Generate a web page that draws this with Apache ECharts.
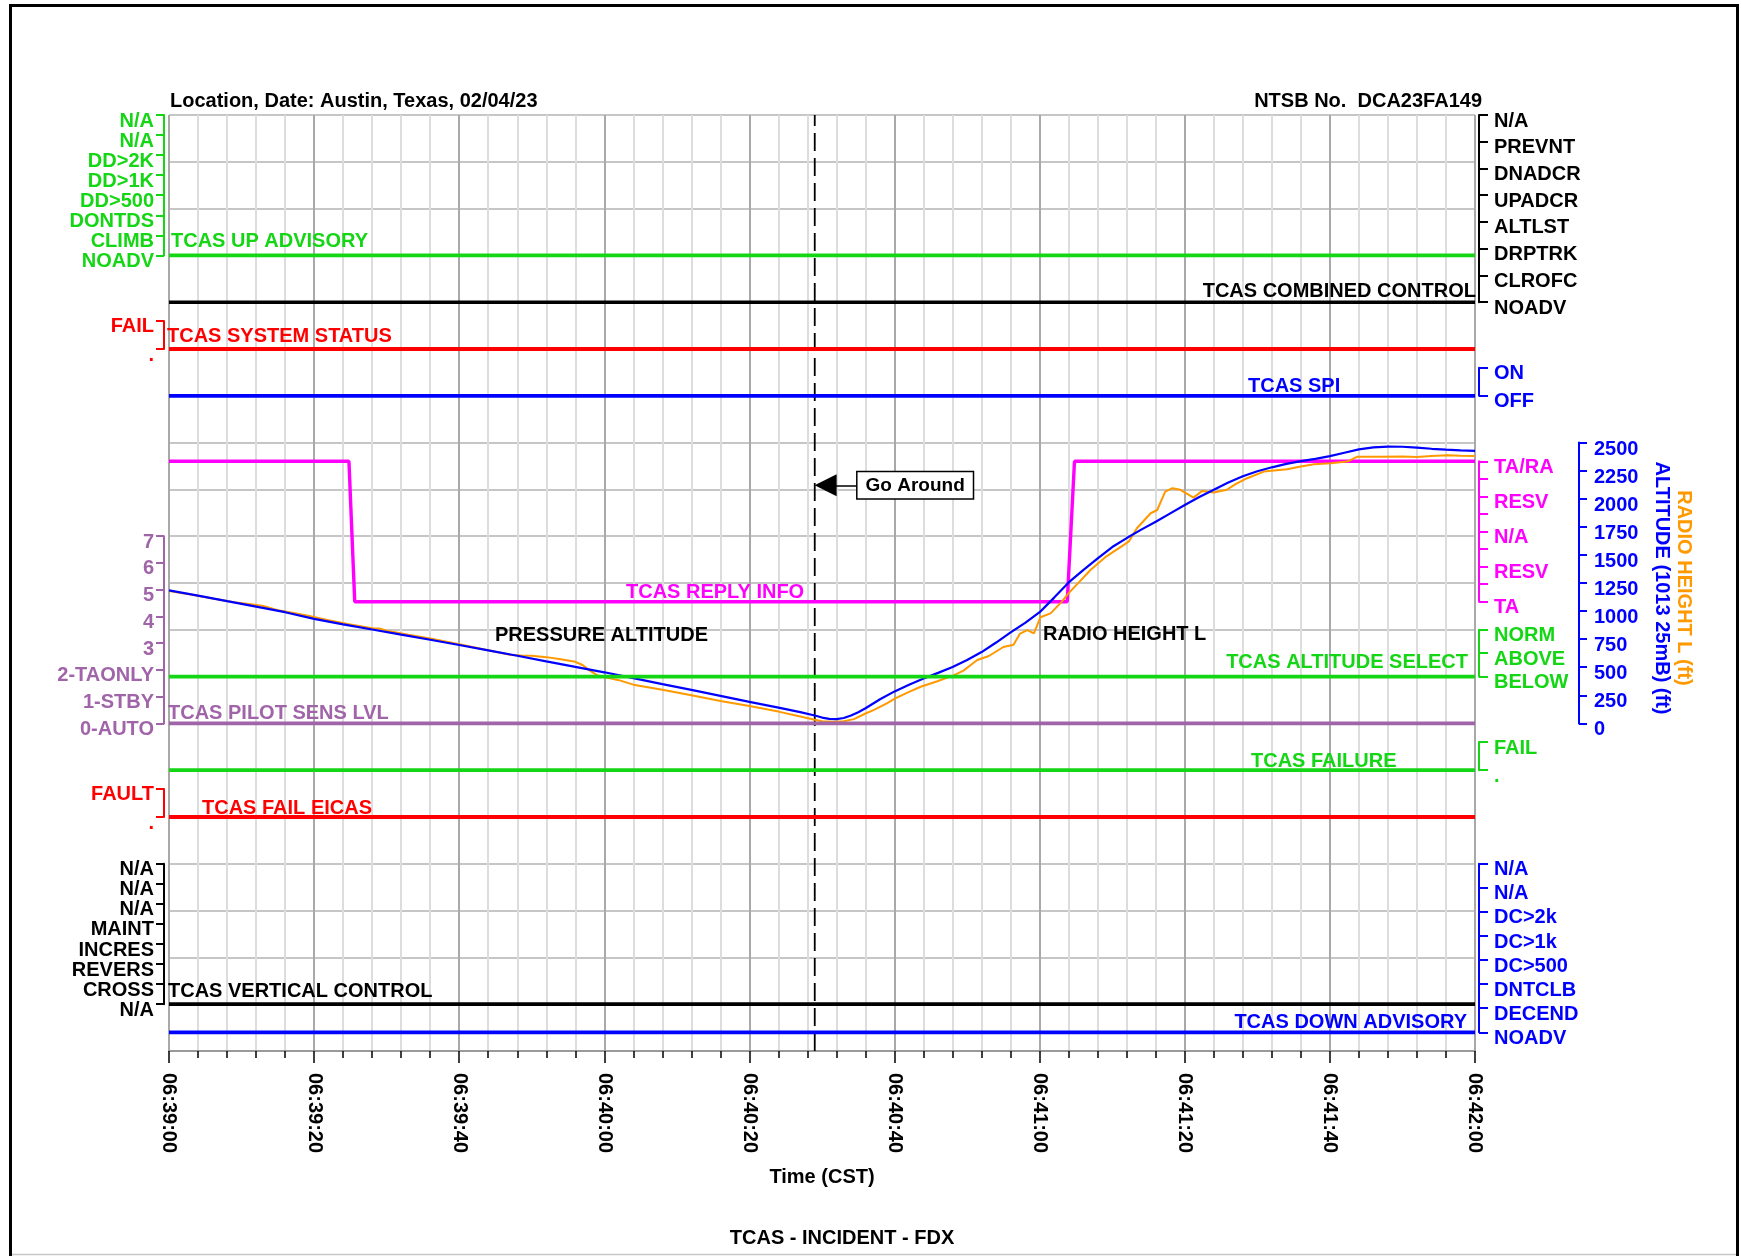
<!DOCTYPE html>
<html>
<head>
<meta charset="utf-8">
<title>TCAS - INCIDENT - FDX</title>
<script src="https://cdn.jsdelivr.net/npm/echarts@6/dist/echarts.min.js"></script>
<style>
  html, body { margin: 0; padding: 0; background: #ffffff; }
  #chart { width: 1741px; height: 1256px; }
</style>
</head>
<body>
<div id="chart"></div>
<script>
// ---- Time axis: seconds after 06:39:00 CST ----
const timeLabels = ['06:39:00', '06:39:20', '06:39:40', '06:40:00', '06:40:20',
                    '06:40:40', '06:41:00', '06:41:20', '06:41:40', '06:42:00'];
const goAroundTime = 89;

// ---- Continuous parameters [seconds, feet] ----
const pressureAltitude = [
  [0,1185],[4,1137],[8,1088],[12,1040],[16,990],[20,930],[24,882],[28,836],[32,790],[36,745],
  [40,698],[44,650],[48,602],[52,552],[56,503],[60,455],[64,403],[68,350],[72,298],[76,245],
  [80,192],[84,140],[87,100],[89,70],[90,52],[91,40],[92,38],[93,48],[94,70],[95,100],
  [96,135],[98,215],[100,285],[102,345],[104,400],[106,450],[108,502],[110,565],[112,635],[114,720],
  [116,810],[118,895],[120,990],[122,1120],[124,1255],[126,1365],[128,1470],[130,1570],[132,1650],[134,1725],
  [136,1795],[138,1870],[140,1945],[142,2015],[144,2080],[146,2145],[148,2200],[150,2245],[152,2280],[154,2310],
  [156,2335],[158,2355],[160,2380],[162,2410],[164,2440],[166,2458],[168,2465],[170,2463],[172,2455],[174,2445],
  [176,2437],[178,2430],[180,2426]
];
const radioHeight = [
  [0,1178],[3,1148],[6,1112],[9,1078],[11,1062],[13,1045],[15,1008],[17,985],[19,960],[22,918],
  [25,880],[28,848],[29,845],[30,825],[33,790],[36,756],[40,705],[44,652],[47,612],[48.5,605],
  [50,603],[52,590],[54,572],[56,548],[57,520],[58,470],[59,430],[60,412],[62,385],[64,345],
  [68,300],[72,250],[76,200],[80,155],[84,105],[87,62],[89,33],[90,20],[91.5,14],[93,20],
  [94.4,38],[96,88],[97.1,118],[99,180],[100.1,223],[102,280],[103.6,326],[106,378],[108.2,430],[109.5,470],
  [110.5,520],[111.4,564],[113,600],[115,680],[116.4,700],[117.3,800],[118.3,830],[119.2,802],[120.1,945],[121.5,980],
  [123,1080],[124,1160],[125.5,1262],[127,1366],[129,1478],[131.6,1589],[132.3,1620],[133.4,1737],[135.3,1871],[136.2,1900],
  [137.3,2063],[138.3,2094],[139.4,2080],[141.2,2010],[142.4,2070],[144,2055],[145.8,2080],[147,2130],[148.6,2183],[150.9,2242],
  [154.1,2263],[156,2288],[157.8,2308],[160.1,2316],[162.4,2331],[163.8,2375],[167,2375],[170,2376],[172,2372],[174,2380],
  [176.2,2388],[178,2384],[180,2381]
];

// ---- Discrete parameters [seconds, state index] ----
const replyInfo       = [[0,8],[24.8,8],[25.6,0],[123.8,0],[124.8,8],[180,8]];
const upAdvisory      = [[0,0],[180,0]];
const combinedControl = [[0,0],[180,0]];
const systemStatus    = [[0,0],[180,0]];
const spi             = [[0,0],[180,0]];
const pilotSensLvl    = [[0,0],[180,0]];
const altitudeSelect  = [[0,0],[180,0]];
const tcasFailure     = [[0,0],[180,0]];
const failEicas       = [[0,0],[180,0]];
const verticalControl = [[0,0],[180,0]];
const downAdvisory    = [[0,0],[180,0]];

// ---- State names, from state 0 upward ----
const upAdvisoryStates      = ['NOADV','CLIMB','DONTDS','DD>500','DD>1K','DD>2K','N/A','N/A'];
const combinedControlStates = ['NOADV','CLROFC','DRPTRK','ALTLST','UPADCR','DNADCR','PREVNT','N/A'];
const systemStatusStates    = ['.','FAIL'];
const spiStates             = ['OFF','ON'];
const replyInfoStates       = ['TA','','RESV','','N/A','','RESV','','TA/RA'];
const pilotSensStates       = ['0-AUTO','1-STBY','2-TAONLY','3','4','5','6','7'];
const altitudeSelectStates  = ['BELOW','ABOVE','NORM'];
const failureStates         = ['.','FAIL'];
const failEicasStates       = ['.','FAULT'];
const verticalControlStates = ['N/A','CROSS','REVERS','INCRES','MAINT','N/A','N/A','N/A'];
const downAdvisoryStates    = ['NOADV','DECEND','DNTCLB','DC>500','DC>1k','DC>2k','N/A','N/A'];

// ---- Styling ----
const FONT = '"Liberation Sans", Arial, Helvetica, sans-serif';
const GREEN = '#14d614', RED = '#ff0000', BLUE = '#0000ff', BLACK = '#000000';
const MAGENTA = '#ff00ff', PURPLE = '#a064a8', ORANGE = '#ff9900';

const PLOT = { left: 169, width: 1306, top: 115, height: 936 };
const ROW = PLOT.height / 20;
const rowY = r => PLOT.top + r * ROW;

const grids = [], xAxes = [], yAxes = [], series = [];

function addGrid(top, height) {
  grids.push({ left: PLOT.left, width: PLOT.width, top: top, height: height,
               outerBoundsMode: 'none', containLabel: false });
  const gi = grids.length - 1;
  xAxes.push({ gridIndex: gi, type: 'value', min: 0, max: 180, show: false });
  return gi;
}

// state labels sit a few pixels below their tick: top-aligned with a short line box
function bracketLabel(color, margin, drop, formatter) {
  return {
    show: true, color: color, fontFamily: FONT, fontWeight: 'bold', fontSize: 20,
    margin: margin, showMinLabel: true, showMaxLabel: true, hideOverlap: false,
    verticalAlign: 'top', lineHeight: drop * 2, formatter: formatter
  };
}

// background grid: time axis and the chart's ruled lines
addGrid(PLOT.top, PLOT.height);
xAxes[0] = {
  gridIndex: 0, type: 'value', min: 0, max: 180, interval: 20,
  axisLine: { show: true, onZero: false, lineStyle: { color: '#9a9a9a', width: 2 } },
  axisTick: { show: true, length: 12, lineStyle: { color: BLACK, width: 1.5 } },
  minorTick: { show: true, splitNumber: 5, length: 7, lineStyle: { color: BLACK, width: 1.5 } },
  splitLine: { show: true, lineStyle: { color: '#a9a9a9', width: 2 } },
  minorSplitLine: { show: true, lineStyle: { color: '#dddddd', width: 2 } },
  axisLabel: {
    rotate: -90, margin: 22, color: BLACK, fontFamily: FONT, fontWeight: 'bold', fontSize: 20,
    showMinLabel: true, showMaxLabel: true, hideOverlap: false,
    formatter: v => timeLabels[Math.round(v / 20)] || ''
  }
};
yAxes.push({
  gridIndex: 0, type: 'value', min: 0, max: 20, interval: 1,
  axisLine: { show: false }, axisTick: { show: false }, axisLabel: { show: false },
  splitLine: { show: true, lineStyle: { color: '#b3b3b3', width: 1.6 } }
});
series.push({
  name: 'Go Around', type: 'line', xAxisIndex: 0, yAxisIndex: 0,
  data: [[goAroundTime, 0], [goAroundTime, 20]],
  symbol: 'none', clip: false, silent: true,
  lineStyle: { color: BLACK, width: 1.8, type: [18, 7] }
});

function stateBand(o) {
  const gi = addGrid(o.top, o.height);
  const left = o.side === 'left';
  yAxes.push({
    gridIndex: gi, type: 'value', position: o.side,
    min: 0, max: o.states.length - 1, interval: 1,
    offset: left ? 5 : 4,
    axisLine: { show: true, onZero: false, lineStyle: { color: o.color, width: 2 } },
    axisTick: { show: true, length: left ? 8 : 9, lineStyle: { color: o.color, width: 2 } },
    splitLine: { show: false },
    axisLabel: bracketLabel(o.color, left ? 10 : 15, left ? 6 : 6,
                            v => o.states[Math.round(v)] || '')
  });
  series.push({
    name: o.name, type: 'line', xAxisIndex: gi, yAxisIndex: yAxes.length - 1,
    data: o.data, symbol: 'none', clip: false, silent: true,
    lineStyle: { color: o.color, width: o.width || 3.8 }
  });
}

stateBand({ name: 'TCAS UP ADVISORY', top: rowY(0), height: 3 * ROW, side: 'left',
            color: GREEN, states: upAdvisoryStates, data: upAdvisory });
stateBand({ name: 'TCAS COMBINED CONTROL', top: rowY(0), height: 4 * ROW, side: 'right',
            color: BLACK, states: combinedControlStates, data: combinedControl, width: 3.4 });
stateBand({ name: 'TCAS SYSTEM STATUS', top: rowY(4.4), height: 0.6 * ROW, side: 'left',
            color: RED, states: systemStatusStates, data: systemStatus });
stateBand({ name: 'TCAS SPI', top: rowY(5.4), height: 0.6 * ROW, side: 'right',
            color: BLUE, states: spiStates, data: spi });
stateBand({ name: 'TCAS REPLY INFO', top: rowY(7.4), height: 3 * ROW, side: 'right',
            color: MAGENTA, states: replyInfoStates, data: replyInfo, width: 3.4 });

// altitude band: pressure altitude and radio height share one feet scale
const altGrid = addGrid(rowY(7), 6 * ROW);
yAxes.push({
  gridIndex: altGrid, type: 'value', position: 'right', offset: 104,
  min: 0, max: 2500, interval: 250,
  axisLine: { show: true, onZero: false, lineStyle: { color: BLUE, width: 2 } },
  axisTick: { show: true, length: 8, lineStyle: { color: BLUE, width: 2 } },
  splitLine: { show: false },
  axisLabel: bracketLabel(BLUE, 15, 6.5, v => String(Math.round(v)))
});
const altY = yAxes.length - 1;
series.push({
  name: 'RADIO HEIGHT L', type: 'line', xAxisIndex: altGrid, yAxisIndex: altY,
  data: radioHeight, symbol: 'none', clip: false, silent: true,
  lineStyle: { color: ORANGE, width: 2 }
});
series.push({
  name: 'PRESSURE ALTITUDE', type: 'line', xAxisIndex: altGrid, yAxisIndex: altY,
  data: pressureAltitude, symbol: 'none', clip: false, silent: true,
  lineStyle: { color: BLUE, width: 2.2 },
  markLine: {
    silent: true, animation: false,
    symbol: ['none', 'triangle'], symbolSize: 22,
    lineStyle: { color: BLACK, width: 1.5, type: 'solid' },
    label: {
      show: true, position: 'start', distance: 0, formatter: 'Go Around',
      color: BLACK, fontFamily: FONT, fontWeight: 'bold', fontSize: 19, lineHeight: 21,
      backgroundColor: '#ffffff', borderColor: BLACK, borderWidth: 1.5, padding: [3, 8, 2, 8]
    },
    data: [[{ coord: [94.9, 2120] }, { coord: [90.5, 2120] }]]
  }
});

stateBand({ name: 'TCAS PILOT SENS LVL', top: rowY(9), height: 4 * ROW, side: 'left',
            color: PURPLE, states: pilotSensStates, data: pilotSensLvl });
stateBand({ name: 'TCAS ALTITUDE SELECT', top: rowY(11), height: ROW, side: 'right',
            color: GREEN, states: altitudeSelectStates, data: altitudeSelect });
stateBand({ name: 'TCAS FAILURE', top: rowY(13.4), height: 0.6 * ROW, side: 'right',
            color: GREEN, states: failureStates, data: tcasFailure });
stateBand({ name: 'TCAS FAIL EICAS', top: rowY(14.4), height: 0.6 * ROW, side: 'left',
            color: RED, states: failEicasStates, data: failEicas });
stateBand({ name: 'TCAS VERTICAL CONTROL', top: rowY(16), height: 3 * ROW, side: 'left',
            color: BLACK, states: verticalControlStates, data: verticalControl });
stateBand({ name: 'TCAS DOWN ADVISORY', top: rowY(16), height: 3.6 * ROW, side: 'right',
            color: BLUE, states: downAdvisoryStates, data: downAdvisory });

// ---- Text annotations ----
function txt(text, x, y, color, align, extra) {
  return Object.assign({
    type: 'text', x: x, y: y, z: 100, silent: true,
    style: {
      text: text, fill: color, font: 'bold 20px ' + FONT,
      align: align || 'left', verticalAlign: 'middle',
      textAlign: align || 'left', textVerticalAlign: 'middle'
    }
  }, extra || {});
}

const graphics = [
  { type: 'rect', z: 0, silent: true, shape: { x: 10.5, y: 5.5, width: 1727, height: 1300 },
    style: { fill: 'none', stroke: BLACK, lineWidth: 3 } },
  { type: 'line', z: 0, silent: true, shape: { x1: 12, y1: 1254.5, x2: 1736, y2: 1254.5 },
    style: { stroke: '#c8c8c8', lineWidth: 1.5 } },
  txt('Location, Date: Austin, Texas, 02/04/23', 170, 101, BLACK, 'left'),
  txt('NTSB No.  DCA23FA149', 1482, 101, BLACK, 'right'),
  txt('TCAS UP ADVISORY', 171, 241, GREEN, 'left'),
  txt('TCAS COMBINED CONTROL', 1476, 291, BLACK, 'right'),
  txt('TCAS SYSTEM STATUS', 167, 336, RED, 'left'),
  txt('TCAS SPI', 1248, 386, BLUE, 'left'),
  txt('TCAS REPLY INFO', 626, 592, MAGENTA, 'left'),
  txt('PRESSURE ALTITUDE', 495, 635.5, BLACK, 'left'),
  txt('RADIO HEIGHT L', 1043, 634, BLACK, 'left'),
  txt('TCAS ALTITUDE SELECT', 1468, 662, GREEN, 'right'),
  txt('TCAS PILOT SENS LVL', 168, 713, PURPLE, 'left'),
  txt('TCAS FAILURE', 1251, 761, GREEN, 'left'),
  txt('TCAS FAIL EICAS', 202, 808, RED, 'left'),
  txt('TCAS VERTICAL CONTROL', 168, 991, BLACK, 'left'),
  txt('TCAS DOWN ADVISORY', 1467, 1022.5, BLUE, 'right'),
  txt('ALTITUDE (1013 25mB) (ft)', 1662, 588, BLUE, 'center', { rotation: -Math.PI / 2 }),
  txt('RADIO HEIGHT L (ft)', 1684, 588, ORANGE, 'center', { rotation: -Math.PI / 2 }),
  txt('Time (CST)', 822, 1177, BLACK, 'center'),
  txt('TCAS - INCIDENT - FDX', 842, 1238, BLACK, 'center')
];

const chart = echarts.init(document.getElementById('chart'), null, { renderer: 'canvas', width: 1741, height: 1256 });
chart.setOption({
  animation: false,
  backgroundColor: '#ffffff',
  textStyle: { fontFamily: FONT },
  grid: grids,
  xAxis: xAxes,
  yAxis: yAxes,
  series: series,
  graphic: graphics
});
</script>
</body>
</html>
